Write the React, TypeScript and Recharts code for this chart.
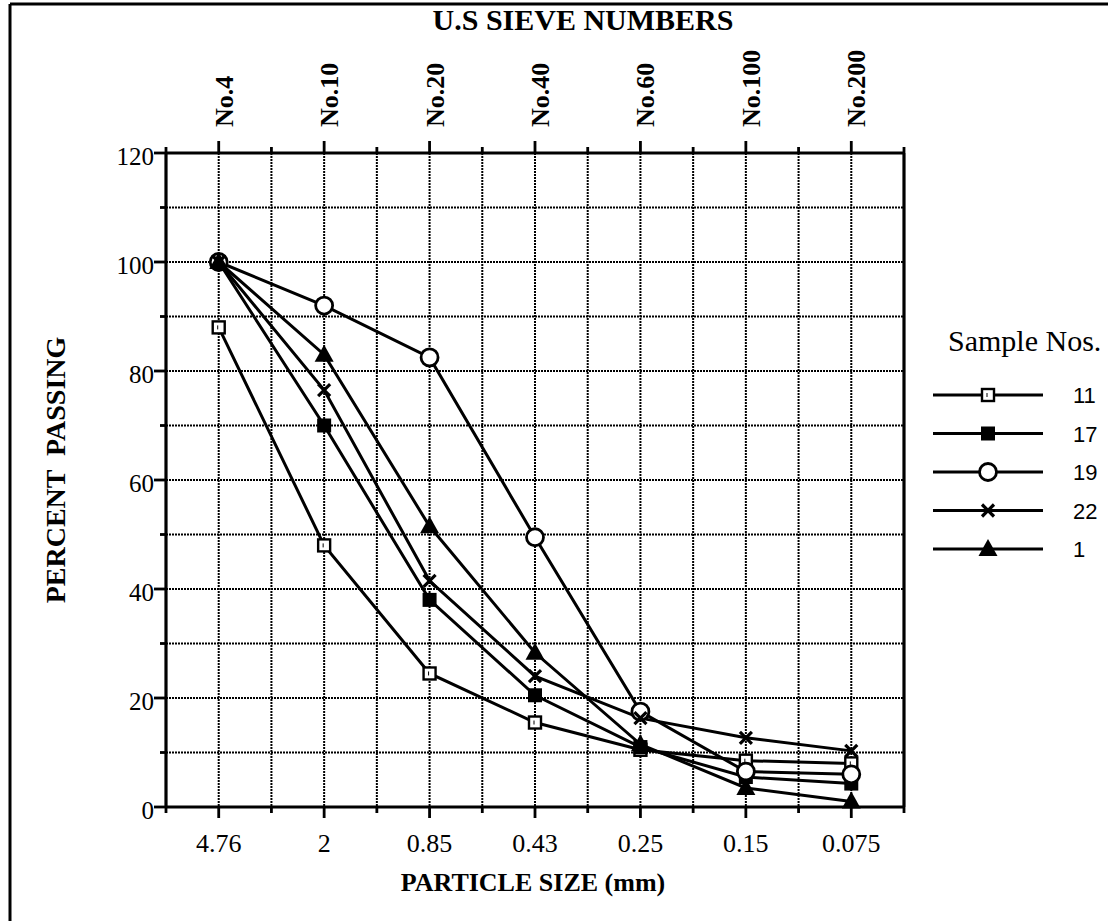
import React from 'react';
import { LineChart, Line, XAxis, YAxis, CartesianGrid, Legend, ReferenceLine } from 'recharts';

// grain size curve: percent passing per sieve, one array per sample
const particleSizes = ['4.76', '2', '0.85', '0.43', '0.25', '0.15', '0.075'];
const sieveNumbers = ['No.4', 'No.10', 'No.20', 'No.40', 'No.60', 'No.100', 'No.200'];

const sample11 = [88, 48, 24.5, 15.5, 10.5, 8.5, 8];
const sample17 = [100, 70, 38, 20.5, 11, 5.5, 4.3];
const sample19 = [100, 92, 82.5, 49.5, 17.5, 6.5, 6];
const sample22 = [100, 76.5, 41.5, 24, 16.3, 12.7, 10.3];
const sample1 = [100, 83, 51.5, 28.3, 11.5, 3.5, 1];

const yTicks = [0, 10, 20, 30, 40, 50, 60, 70, 80, 90, 100, 110, 120];

const SERIF = '"Liberation Serif", "Times New Roman", serif';
const SANS = '"Liberation Sans", Arial, sans-serif';

const data = particleSizes.map((size, i) => ({
  idx: i,
  size,
  s11: sample11[i],
  s17: sample17[i],
  s19: sample19[i],
  s22: sample22[i],
  s1: sample1[i],
}));

// ticks on every sieve and halfway between them
const xTicks = particleSizes
  .flatMap((_, i) => [i - 0.5, i])
  .concat(particleSizes.length - 0.5);

type MarkerKind = 'openSquare' | 'square' | 'circle' | 'cross' | 'triangle';

function Marker({ kind, cx, cy }: { kind: MarkerKind; cx: number; cy: number }) {
  switch (kind) {
    case 'openSquare':
      return (
        <g>
          <rect x={cx - 6} y={cy - 6} width={12} height={12} fill="#fff" stroke="#000" strokeWidth={2.4} />
          <line x1={cx - 1} x2={cx - 1} y1={cy - 2} y2={cy + 2} stroke="#000" strokeWidth={1} />
        </g>
      );
    case 'square':
      return <rect x={cx - 7} y={cy - 7} width={14} height={14} fill="#000" />;
    case 'circle':
      return <circle cx={cx} cy={cy} r={8.5} fill="#fff" stroke="#000" strokeWidth={2.8} />;
    case 'cross':
      return (
        <g stroke="#000" strokeWidth={3.2}>
          <line x1={cx - 6} y1={cy - 6} x2={cx + 6} y2={cy + 6} />
          <line x1={cx - 6} y1={cy + 6} x2={cx + 6} y2={cy - 6} />
        </g>
      );
    case 'triangle':
      return <path d={`M${cx},${cy - 10} L${cx + 9.5},${cy + 7} L${cx - 9.5},${cy + 7} Z`} fill="#000" />;
    default:
      return null;
  }
}

const seriesList: { key: string; name: string; marker: MarkerKind }[] = [
  { key: 's11', name: '11', marker: 'openSquare' },
  { key: 's17', name: '17', marker: 'square' },
  { key: 's19', name: '19', marker: 'circle' },
  { key: 's22', name: '22', marker: 'cross' },
  { key: 's1', name: '1', marker: 'triangle' },
];

const BottomTick = (props: any) => {
  const { x, y, payload } = props;
  const v = payload.value as number;
  const major = Number.isInteger(v);
  return (
    <g>
      <line x1={x} x2={x} y1={y} y2={y + (major ? 11 : 6)} stroke="#000" strokeWidth={2.8} />
      {major && (
        <text x={x} y={y + 45} textAnchor="middle" fontFamily={SERIF} fontSize={26} fill="#000">
          {particleSizes[v]}
        </text>
      )}
    </g>
  );
};

const TopTick = (props: any) => {
  const { x, y, payload } = props;
  const v = payload.value as number;
  const major = Number.isInteger(v);
  return (
    <g>
      <line x1={x} x2={x} y1={y} y2={y - (major ? 12 : 6)} stroke="#000" strokeWidth={2.8} />
      {major && (
        <text
          x={x + 14}
          y={y - 26}
          transform={`rotate(-90, ${x + 14}, ${y - 26})`}
          textAnchor="start"
          fontFamily={SERIF}
          fontWeight="bold"
          fontSize={26}
          fill="#000"
        >
          {sieveNumbers[v]}
        </text>
      )}
    </g>
  );
};

const LeftTick = (props: any) => {
  const { x, y, payload } = props;
  const v = payload.value as number;
  const major = v % 20 === 0;
  return (
    <g>
      <line x1={x} x2={x - (major ? 12 : 6)} y1={y} y2={y} stroke="#000" strokeWidth={2.8} />
      {major && (
        <text x={x - 12} y={y + 12} textAnchor="end" fontFamily={SERIF} fontSize={25} fill="#000">
          {v}
        </text>
      )}
    </g>
  );
};

const renderLegend = () => (
  <svg width={183} height={250}>
    <text x={23} y={33} fontFamily={SERIF} fontSize={30} fill="#000">
      Sample Nos.
    </text>
    {seriesList.map((s, i) => {
      const cy = 77 + i * 38.5;
      return (
        <g key={s.key}>
          <line x1={8} x2={118} y1={cy} y2={cy} stroke="#000" strokeWidth={3} />
          <Marker kind={s.marker} cx={63} cy={cy} />
          <text x={148} y={cy + 8} fontFamily={SANS} fontSize={22} fill="#000">
            {s.name}
          </text>
        </g>
      );
    })}
  </svg>
);

export default function App() {
  return (
    <div style={{ position: 'absolute', left: 0, top: 0, width: 1108, height: 921, background: '#fff' }}>
      <svg width={1108} height={921} style={{ position: 'absolute', left: 0, top: 0 }}>
        <line x1={10} x2={1108} y1={4} y2={4} stroke="#000" strokeWidth={3} />
        <line x1={10} x2={10} y1={4} y2={921} stroke="#000" strokeWidth={3} />
      </svg>
      <LineChart
        width={1108}
        height={921}
        data={data}
        margin={{ top: 93, right: 204, bottom: 54, left: 106 }}
        style={{ position: 'absolute', left: 0, top: 0 }}
      >
        <CartesianGrid
          xAxisId="bottom"
          yAxisId="left"
          stroke="#000"
          strokeWidth={2}
          strokeDasharray="2 1"
        />
        <XAxis
          xAxisId="bottom"
          dataKey="idx"
          type="number"
          domain={[-0.5, 6.5]}
          ticks={xTicks}
          interval={0}
          height={60}
          tickSize={0}
          tickMargin={0}
          tickLine={false}
          tick={BottomTick}
          axisLine={{ stroke: '#000', strokeWidth: 3.2 }}
          label={{
            content: (p: any) => (
              <text
                x={p.viewBox.x + p.viewBox.width / 2 - 2}
                y={p.viewBox.y + 84}
                textAnchor="middle"
                fontFamily={SERIF}
                fontWeight="bold"
                fontSize={26}
                fill="#000"
              >
                PARTICLE SIZE (mm)
              </text>
            ),
          }}
        />
        <XAxis
          xAxisId="top"
          orientation="top"
          dataKey="idx"
          type="number"
          domain={[-0.5, 6.5]}
          ticks={xTicks}
          interval={0}
          height={60}
          tickSize={0}
          tickMargin={0}
          tickLine={false}
          tick={TopTick}
          axisLine={{ stroke: '#000', strokeWidth: 3.2 }}
          label={{
            content: (p: any) => (
              <text
                x={583}
                y={p.viewBox.y - 63}
                textAnchor="middle"
                fontFamily={SERIF}
                fontWeight="bold"
                fontSize={30}
                fill="#000"
              >
                U.S SIEVE NUMBERS
              </text>
            ),
          }}
        />
        <YAxis
          yAxisId="left"
          type="number"
          domain={[0, 120]}
          ticks={yTicks}
          interval={0}
          width={60}
          tickSize={0}
          tickMargin={0}
          tickLine={false}
          tick={LeftTick}
          axisLine={{ stroke: '#000', strokeWidth: 3.2 }}
          label={{
            content: (p: any) => {
              const cx = p.viewBox.x - 51;
              const cy = p.viewBox.y + p.viewBox.height / 2 - 10;
              return (
                <text
                  x={cx}
                  y={cy}
                  transform={`rotate(-90, ${cx}, ${cy})`}
                  textAnchor="middle"
                  dy="0.35em"
                  fontFamily={SERIF}
                  fontWeight="bold"
                  fontSize={28}
                  fill="#000"
                  style={{ whiteSpace: 'pre' }}
                >
                  PERCENT  PASSING
                </text>
              );
            },
          }}
        />
        <ReferenceLine xAxisId="bottom" yAxisId="left" x={6.5} stroke="#000" strokeWidth={3.2} />
        {seriesList.map((s) => (
          <Line
            key={s.key}
            xAxisId="bottom"
            yAxisId="left"
            type="linear"
            dataKey={s.key}
            name={s.name}
            stroke="#000"
            strokeWidth={3}
            isAnimationActive={false}
            activeDot={false}
            dot={(p: any) => <Marker key={`${s.key}-${p.index}`} kind={s.marker} cx={p.cx} cy={p.cy} />}
          />
        ))}
        <Legend
          layout="vertical"
          align="center"
          verticalAlign="middle"
          content={renderLegend}
          wrapperStyle={{ position: 'absolute', left: 925, top: 318, width: 183 }}
        />
      </LineChart>
    </div>
  );
}
